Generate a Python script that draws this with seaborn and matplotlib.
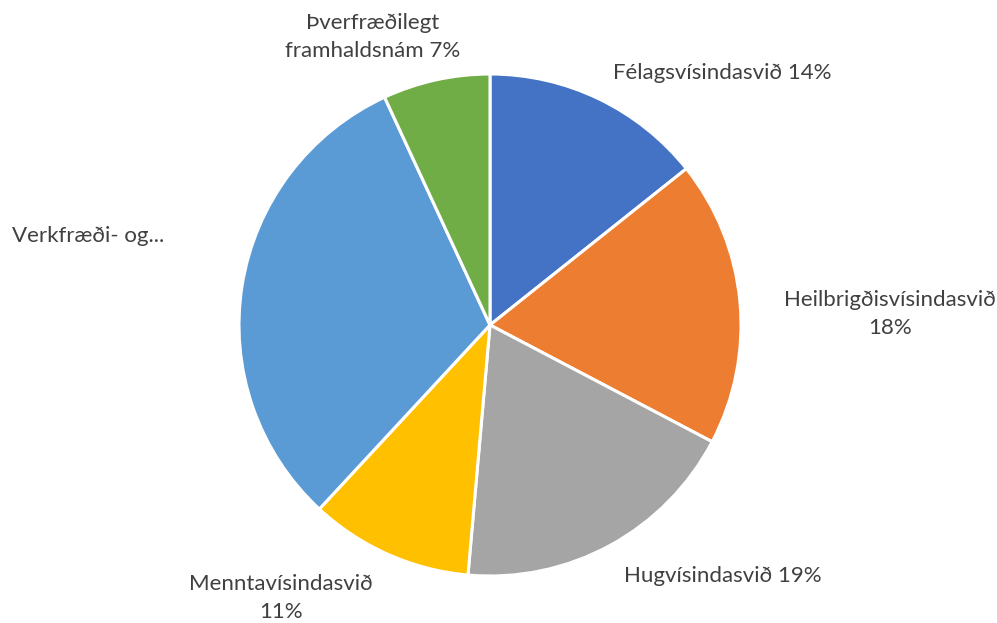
import matplotlib
matplotlib.use("Agg")
import matplotlib.pyplot as plt
import seaborn as sns

categories = ["Félagsvísindasvið", "Heilbrigðisvísindasvið", "Hugvísindasvið",
              "Menntavísindasvið", "Verkfræði- og náttúruvísindasvið",
              "Þverfræðilegt framhaldsnám"]
values = [14.3, 18.4, 18.7, 10.5, 31.2, 6.9]
label_texts = ["Félagsvísindasvið 14%", "Heilbrigðisvísindasvið\n18%", "Hugvísindasvið 19%",
               "Menntavísindasvið\n11%", "Verkfræði- og...", "Þverfræðilegt\nframhaldsnám 7%"]
colors = ["#4472C4", "#ED7D31", "#A5A5A5", "#FFC000", "#5B9BD5", "#70AD47"]

sns.set_theme(style="white")
plt.rcParams['font.family'] = ['Lato', 'DejaVu Sans']

W, H = 997, 623
cx, cy, R = 490, 325, 251
fig = plt.figure(figsize=(W / 100, H / 100), dpi=100)
ax = fig.add_axes([0, 0, 1, 1])
palette = sns.color_palette(colors)
ax.pie(values, colors=palette, startangle=90, counterclock=False, radius=1,
       wedgeprops=dict(edgecolor="white", linewidth=2.2))
ax.set_xlim((0 - cx) / R, (W - cx) / R)
ax.set_ylim((cy - H) / R, (cy - 0) / R)
ax.set_aspect('auto')
ax.axis('off')

def px(x, y):
    return (x - cx) / R, (cy - y) / R

label_pos = [(722, 73), (890, 314), (723, 576), (281, 598), (88, 236), (373, 37)]
for txt, (x, y) in zip(label_texts, label_pos):
    dx, dy = px(x, y)
    ax.text(dx, dy, txt, ha="center", va="center", fontsize=16,
            color="#404040", linespacing=1.5)

fig.savefig("out.png", dpi=100, facecolor="white")
